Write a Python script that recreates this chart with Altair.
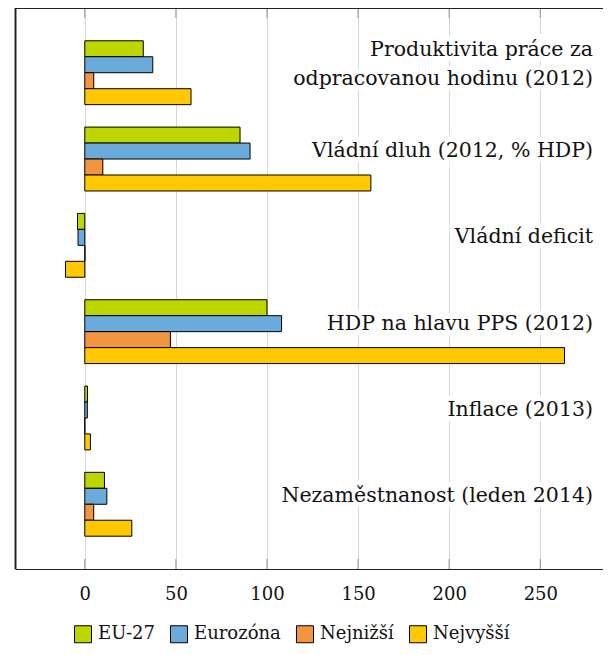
import altair as alt
import pandas as pd

categories = [
    "Produktivita práce za odpracovanou hodinu (2012)",
    "Vládní dluh (2012, % HDP)",
    "Vládní deficit",
    "HDP na hlavu PPS (2012)",
    "Inflace (2013)",
    "Nezaměstnanost (leden 2014)",
]
label_line1 = ["Produktivita práce za", "Vládní dluh (2012, % HDP)", "Vládní deficit",
               "HDP na hlavu PPS (2012)", "Inflace (2013)", "Nezaměstnanost (leden 2014)"]
label_line2 = ["odpracovanou hodinu (2012)", "", "", "", "", ""]
series_names = ["EU-27", "Eurozóna", "Nejnižší", "Nejvyšší"]
eu27 = [32.1, 85.2, -4.0, 100.0, 1.5, 10.8]
eurozona = [37.3, 90.7, -3.7, 108.0, 1.4, 12.1]
nejnizsi = [4.9, 9.9, 0.1, 47.0, 0.0, 4.9]
nejvyssi = [58.3, 157.0, -10.6, 263.3, 3.1, 25.8]
colors = ["#bdd600", "#6aabdc", "#f39441", "#ffc800"]
tick_values = [0, 50, 100, 150, 200, 250]

rows = []
for name, vals in zip(series_names, [eu27, eurozona, nejnizsi, nejvyssi]):
    for c, v in zip(categories, vals):
        rows.append({"cat": c, "series": name, "value": v})
df = pd.DataFrame(rows)
single_df = pd.DataFrame({"cat": [c for c, l2 in zip(categories, label_line2) if not l2],
                          "label": [l1 for l1, l2 in zip(label_line1, label_line2) if not l2]})
first_df = pd.DataFrame({"cat": [c for c, l2 in zip(categories, label_line2) if l2],
                         "label": [l1 for l1, l2 in zip(label_line1, label_line2) if l2]})
second_df = pd.DataFrame({"cat": [c for c, l2 in zip(categories, label_line2) if l2],
                          "label": [l2 for l2 in label_line2 if l2]})
tick_df = pd.DataFrame({"t": tick_values})

W, H = 588, 561
FONT = "DejaVu Serif"
FS = 20.5
FS_SMALL = 18

xscale = alt.Scale(domain=[-38.3, 284.4], nice=False, zero=False)
yscale = alt.Scale(domain=categories, paddingInner=0.26, paddingOuter=0.38)

bars = alt.Chart(df).mark_bar(stroke="black", strokeWidth=1, opacity=1).encode(
    x=alt.X("value:Q", scale=xscale, title=None,
            axis=alt.Axis(values=tick_values, grid=True, gridColor="#d6d6d6",
                          ticks=False, domain=True, domainColor="#222222",
                          domainWidth=1.2, labelPadding=16, labelFont=FONT,
                          labelFontSize=FS_SMALL, labelColor="#111111", format="d")),
    y=alt.Y("cat:N", scale=yscale, sort=categories, axis=None),
    yOffset=alt.YOffset("series:N", sort=series_names,
                        scale=alt.Scale(domain=series_names, paddingInner=0, paddingOuter=0)),
    color=alt.Color("series:N", scale=alt.Scale(domain=series_names, range=colors),
                    sort=series_names,
                    legend=alt.Legend(title=None, orient="none", direction="horizontal",
                                      legendX=59, legendY=617, symbolType="square",
                                      symbolSize=289, symbolStrokeColor="black",
                                      symbolStrokeWidth=1, labelFont=FONT,
                                      labelFontSize=FS_SMALL, labelColor="#111111",
                                      columnPadding=13, labelOffset=6, padding=0)),
)


def label_layers(data, dy):
    halo = alt.Chart(data).mark_text(
        align="right", baseline="middle", dy=dy, font=FONT, fontSize=FS,
        stroke="white", strokeWidth=10, fill="white",
    ).encode(x=alt.value(578), y=alt.Y("cat:N", scale=yscale, sort=categories, axis=None),
             text="label:N")
    txt = alt.Chart(data).mark_text(
        align="right", baseline="middle", dy=dy, font=FONT, fontSize=FS, color="#111111",
    ).encode(x=alt.value(578), y=alt.Y("cat:N", scale=yscale, sort=categories, axis=None),
             text="label:N")
    return [halo, txt]


ticks_bottom = alt.Chart(tick_df).mark_rule(color="#a0a0a0", strokeWidth=1.2).encode(
    x=alt.X("t:Q", scale=xscale), y=alt.value(H - 10), y2=alt.value(H))
ticks_top = alt.Chart(tick_df).mark_rule(color="#a0a0a0", strokeWidth=1.2).encode(
    x=alt.X("t:Q", scale=xscale), y=alt.value(0), y2=alt.value(10))

frame_top = alt.Chart(tick_df).mark_rule(color="#222222", strokeWidth=1.2).encode(
    x=alt.value(0), x2=alt.value(W), y=alt.value(0.5))
frame_left = alt.Chart(tick_df).mark_rule(color="#222222", strokeWidth=1.2).encode(
    x=alt.value(0.5), y=alt.value(0), y2=alt.value(H))

layers = [bars, ticks_bottom, ticks_top]
layers += label_layers(single_df, -8)
layers += label_layers(first_df, -23)
layers += label_layers(second_df, 6)
layers += [frame_top, frame_left]

chart = alt.layer(*layers).properties(
    width=W, height=H,
    padding={"left": 7, "top": 0, "right": 0, "bottom": 78},
    autosize=alt.AutoSizeParams(type="none"),
).configure_view(stroke=None).configure(background="white")

chart.save("out.html", embed_options={"renderer": "svg", "actions": False})
